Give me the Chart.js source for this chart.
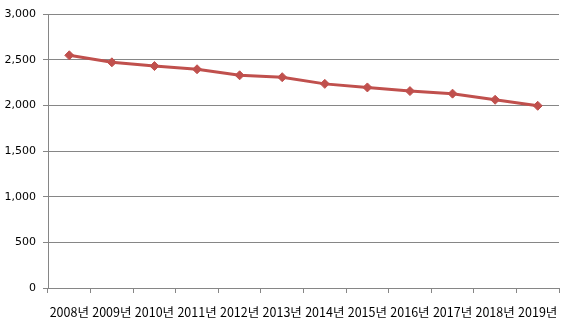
<!DOCTYPE html>
<html>
<head>
<meta charset="utf-8">
<script src="https://cdn.jsdelivr.net/npm/chart.js@4/dist/chart.umd.min.js"></script>
<style>
  html, body { margin: 0; padding: 0; background: #fff; }
  #wrap { width: 567px; height: 329px; }
</style>
</head>
<body>
<div id="wrap"><canvas id="line-graph" width="567" height="329"></canvas></div>
<script>
var years = ['2008년', '2009년', '2010년', '2011년', '2012년', '2013년',
             '2014년', '2015년', '2016년', '2017년', '2018년', '2019년'];
var values = [2548, 2471, 2430, 2395, 2329, 2308, 2235, 2196, 2156, 2128, 2061, 1995];
var yTicks = [0, 500, 1000, 1500, 2000, 2500, 3000];

var gridGray = '#868686';
var lineRed = '#C0504D';

var ctx = document.getElementById('line-graph').getContext('2d');
var myChart = new Chart(ctx, {
    type: 'line',
    data: {
        labels: years,
        datasets: [{
            data: values,
            borderColor: lineRed,
            backgroundColor: lineRed,
            borderWidth: 3,
            pointStyle: 'rectRot',
            pointRadius: 4.5,
            pointBorderWidth: 1,
            pointBackgroundColor: lineRed,
            pointBorderColor: lineRed,
            tension: 0
        }]
    },
    options: {
        responsive: false,
        animation: false,
        layout: {
            padding: { top: 14, right: 8, left: 0, bottom: 0 }
        },
        scales: {
            x: {
                offset: true,
                grid: {
                    offset: true,
                    drawOnChartArea: false,
                    color: gridGray,
                    tickLength: 5
                },
                border: { color: gridGray, width: 1 },
                ticks: {
                    color: '#000',
                    padding: 12,
                    maxRotation: 0,
                    autoSkip: false,
                    font: { family: "'Noto Sans CJK KR', 'DejaVu Sans', sans-serif", size: 12.5 }
                },
                afterFit: function (axis) {
                    axis.height = 41;
                    axis.paddingLeft = 0;
                    axis.paddingRight = 0;
                }
            },
            y: {
                min: 0,
                max: 3000,
                afterBuildTicks: function (axis) {
                    axis.ticks = yTicks.map(function (v) { return { value: v }; });
                },
                grid: {
                    color: gridGray,
                    tickLength: 5
                },
                border: { color: gridGray, width: 1 },
                ticks: {
                    color: '#000',
                    padding: 7,
                    font: { family: "'DejaVu Sans', sans-serif", size: 11 },
                    callback: function (v) { return v.toLocaleString('en-US'); }
                },
                afterFit: function (axis) { axis.width = 48; }
            }
        },
        plugins: {
            legend: { display: false },
            tooltip: { enabled: false }
        }
    }
});
</script>
</body>
</html>
